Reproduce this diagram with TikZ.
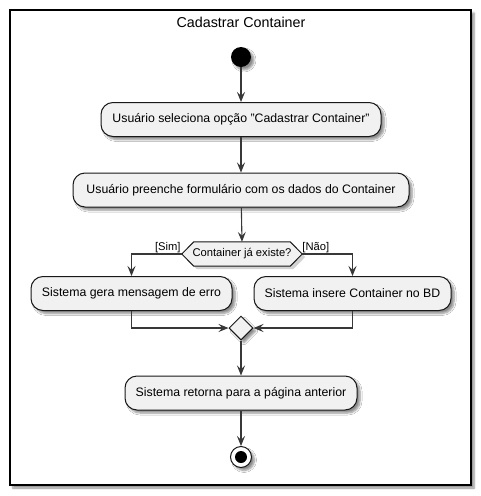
\documentclass[tikz,border=0pt]{standalone}
\usepackage{fontspec}
\setmainfont{Liberation Sans}
\usetikzlibrary{arrows.meta,shapes.geometric,shadows.blur,calc}
\definecolor{boxfill}{HTML}{F1F1F1}
\definecolor{lin}{HTML}{181818}
\definecolor{arrcol}{HTML}{383838}
\tikzset{
  shad/.style={blur shadow={shadow xshift=3pt,shadow yshift=-3pt,shadow blur steps=6,shadow opacity=45,shadow blur radius=2pt}},
  act/.style={draw=lin,fill=boxfill,rounded corners=12pt,line width=1pt,minimum height=34pt,inner sep=0pt,font=\fontsize{12.3}{14}\selectfont,shad},
  arr/.style={draw=arrcol,line width=1.1pt,-{Stealth[length=10pt,width=8pt,inset=4pt]}},
  lbl/.style={inner sep=0pt,font=\fontsize{11.2}{13}\selectfont},
}
\begin{document}
\begin{tikzpicture}[x=1pt,y=-1pt]
\useasboundingbox (0,0) rectangle (481,496);
\node[draw=black,line width=1.6pt,fill=white,minimum width=461pt,minimum height=475pt,inner sep=0pt,shad] (frame) at (240.5,247.5) {};
\node[font=\fontsize{14.3}{16}\selectfont,inner sep=0pt] (title) at (241,22) {Cadastrar Container};
\node[circle,fill=black,minimum size=20pt,inner sep=0pt,shad] (start) at (241,57) {};
\node[act,minimum width=280pt] (b1) at (241,119.5) {Usuário seleciona opção "Cadastrar Container"};
\node[act,minimum width=336pt] (b2) at (241,190) {Usuário preenche formulário com os dados do Container};
\node[lbl,minimum width=120pt,minimum height=24pt] (dec) at (242,254) {Container já existe?};
\begin{scope}
\fill[gray,opacity=0.35] ($(dec.west)+(3,3)$) -- ($(dec.north west)+(15,3)$) -- ($(dec.north east)+(-9,3)$) -- ($(dec.east)+(3,3)$) -- ($(dec.south east)+(-9,3)$) -- ($(dec.south west)+(15,3)$) -- cycle;
\filldraw[draw=lin,fill=boxfill,line width=1pt] (dec.west) -- ($(dec.north west)+(12,0)$) -- ($(dec.north east)+(-12,0)$) -- (dec.east) -- ($(dec.south east)+(-12,0)$) -- ($(dec.south west)+(12,0)$) -- cycle;
\end{scope}
\node[lbl] at (dec) {Container já existe?};
\node[lbl,anchor=south east] (sim) at ($(dec.west)+(-1,-1)$) {[Sim]};
\node[lbl,anchor=south west] (nao) at ($(dec.east)+(0,-1)$) {[Não]};
\node[act,minimum width=201pt] (b3) at (131.5,293.5) {Sistema gera mensagem de erro};
\node[act,minimum width=197pt] (b4) at (352.5,293.5) {Sistema insere Container no BD};
\node[diamond,draw=lin,fill=boxfill,line width=1pt,minimum width=24pt,minimum height=24pt,inner sep=0pt,shad] (m) at (241,328) {};
\node[act,minimum width=232pt] (b5) at (241,393) {Sistema retorna para a página anterior};
\node[circle,draw=lin,fill=white,line width=1pt,minimum size=21pt,inner sep=0pt,shad] (end) at (241,457) {};
\node[circle,fill=black,minimum size=12pt,inner sep=0pt] (endin) at (end) {};
\draw[arr] (start) -- (b1);
\draw[arr] (b1) -- (b2);
\draw[arr] (b2) -- (dec.north);
\draw[arr] (dec.west) -| (b3.north);
\draw[arr] (dec.east) -| (b4.north);
\draw[arr] (b3.south) |- (m.west);
\draw[arr] (b4.south) |- (m.east);
\draw[arr] (m) -- (b5);
\draw[arr] (b5) -- (end);
\end{tikzpicture}
\end{document}
